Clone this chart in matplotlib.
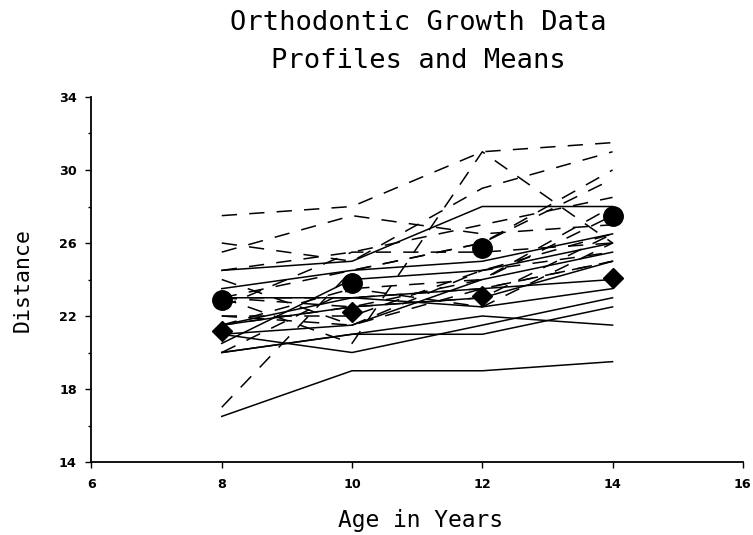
import matplotlib.pyplot as plt
import numpy as np

# Orthodontic growth data (Potthoff & Roy)
ages = [8, 10, 12, 14]

girls = [
    [21.0, 20.0, 21.5, 23.0],
    [21.0, 21.5, 24.0, 25.5],
    [20.5, 24.0, 24.5, 26.0],
    [23.5, 24.5, 25.0, 26.5],
    [21.5, 23.0, 22.5, 23.5],
    [20.0, 21.0, 21.0, 22.5],
    [21.5, 22.5, 23.0, 25.0],
    [23.0, 23.0, 23.5, 24.0],
    [20.0, 21.0, 22.0, 21.5],
    [16.5, 19.0, 19.0, 19.5],
    [24.5, 25.0, 28.0, 28.0],
]

boys = [
    [26.0, 25.0, 29.0, 31.0],
    [21.5, 22.5, 23.0, 26.5],
    [23.0, 22.5, 24.0, 27.5],
    [25.5, 27.5, 26.5, 27.0],
    [20.0, 23.5, 22.5, 26.0],
    [24.5, 25.5, 27.0, 28.5],
    [22.0, 22.0, 24.5, 26.5],
    [24.0, 21.5, 24.5, 25.5],
    [23.0, 20.5, 31.0, 26.0],
    [27.5, 28.0, 31.0, 31.5],
    [23.0, 23.0, 23.5, 25.0],
    [21.5, 23.5, 24.0, 28.0],
    [17.0, 24.5, 26.0, 29.5],
    [22.5, 25.5, 25.5, 26.0],
    [23.0, 24.5, 26.0, 30.0],
    [22.0, 21.5, 23.5, 25.0],
]

girls_mean = np.mean(girls, axis=0)
boys_mean = np.mean(boys, axis=0)

fig = plt.figure(figsize=(7.53, 5.35), dpi=100)
ax = fig.add_axes([0.1215, 0.1364, 0.865, 0.6823])

for g in girls:
    ax.plot(ages, g, color="black", lw=1.1)
for b in boys:
    ax.plot(ages, b, color="black", lw=1.1, dashes=(10, 8))

ax.plot(ages, boys_mean, "o", color="black", ms=14, ls="none")
ax.plot(ages, girls_mean, "D", color="black", ms=10.5, ls="none")

ax.set_xlim(6, 16)
ax.set_ylim(14, 34)
ax.set_xticks([6, 8, 10, 12, 14, 16])
ax.set_yticks([14, 18, 22, 26, 30, 34])
ax.set_yticks(np.arange(16, 34, 4), minor=True)
ax.spines["top"].set_visible(False)
ax.spines["right"].set_visible(False)
ax.spines["left"].set_linewidth(1.3)
ax.spines["bottom"].set_linewidth(1.3)
ax.tick_params(direction="out", length=4.5, width=1)
ax.tick_params(axis="x", pad=7)
ax.tick_params(axis="y", pad=6)
ax.tick_params(which="minor", direction="out", length=2.5, width=1)
for lab in ax.get_xticklabels() + ax.get_yticklabels():
    lab.set_fontfamily("DejaVu Sans")
    lab.set_fontweight("bold")
    lab.set_fontsize(9.2)

mono = "DejaVu Sans Mono"
fig.text(0.556, 0.944, "Orthodontic Growth Data", ha="center", va="baseline",
         family=mono, fontsize=19.5)
fig.text(0.556, 0.873, "Profiles and Means", ha="center", va="baseline",
         family=mono, fontsize=19.5)
fig.text(0.558, 0.0155, "Age in Years", ha="center", va="baseline",
         family=mono, fontsize=16.5)
fig.text(0.0435, 0.477, "Distance", ha="right", va="center", rotation=90,
         family=mono, fontsize=15.5)

fig.savefig("out.png", dpi=100)
